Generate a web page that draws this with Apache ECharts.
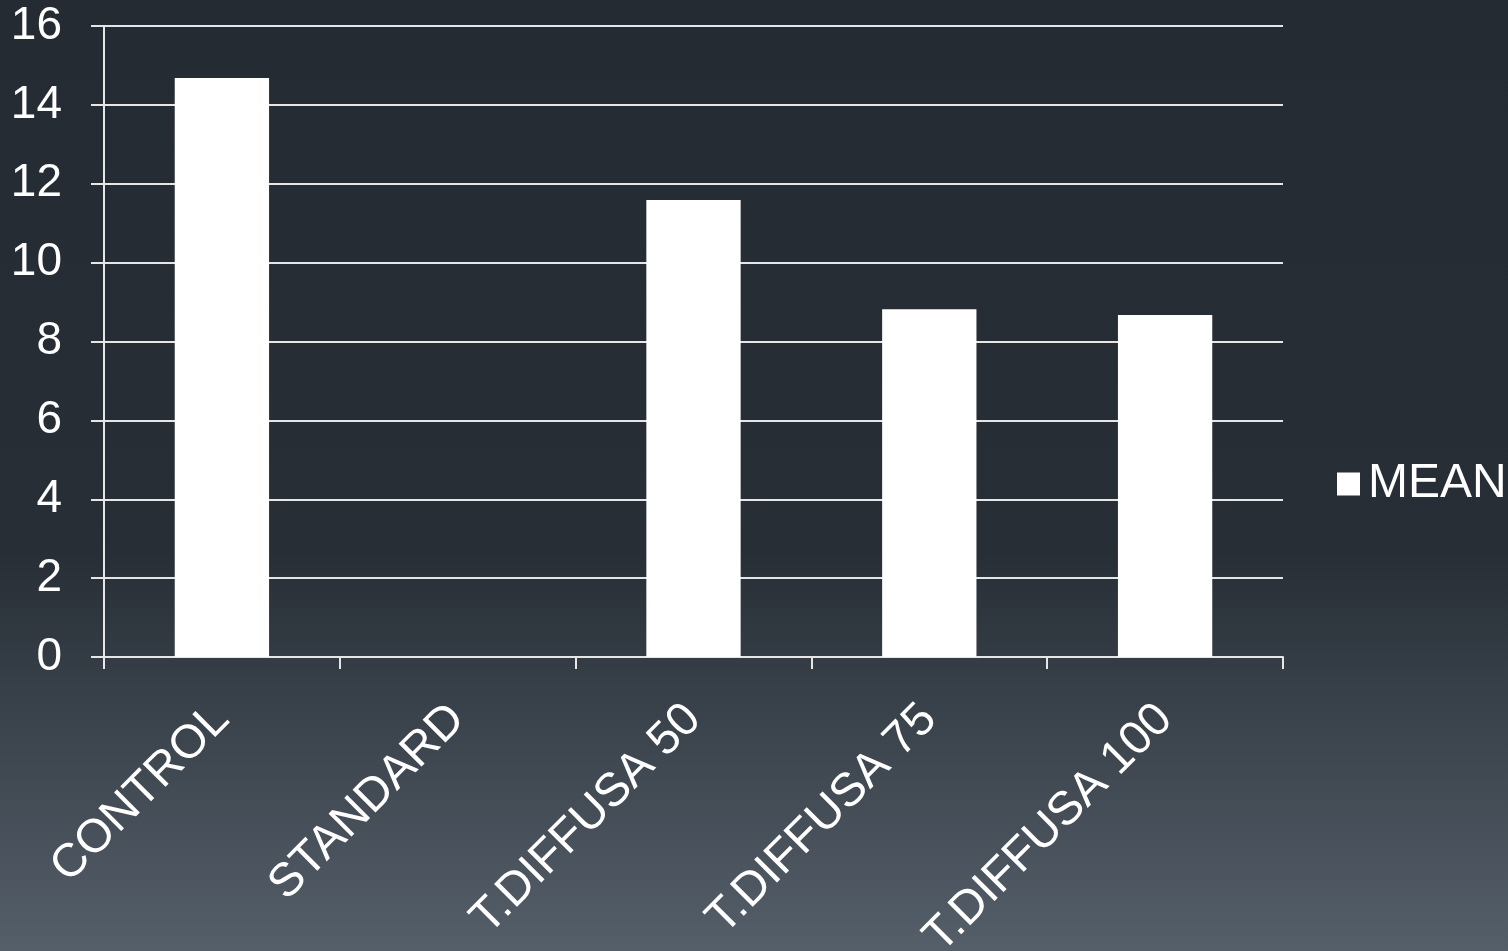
<!DOCTYPE html>
<html>
<head>
<meta charset="utf-8">
<script src="https://cdn.jsdelivr.net/npm/echarts@6/dist/echarts.min.js"></script>
<style>
html,body{margin:0;padding:0;width:1508px;height:951px;overflow:hidden;}
#chart{width:1508px;height:951px;}
</style>
</head>
<body>
<div id="chart"></div>
<script>
const categories = ['CONTROL', 'STANDARD', 'T.DIFFUSA 50', 'T.DIFFUSA 75', 'T.DIFFUSA 100'];
const meanValues = [14.68, 0, 11.59, 8.82, 8.67];
const seriesName = 'MEAN';
const yMin = 0, yMax = 16, yInterval = 2;

const chart = echarts.init(document.getElementById('chart'));
const font = '"Liberation Sans", Arial, sans-serif';
chart.setOption({
  animation: false,
  backgroundColor: {
    type: 'linear', x: 0, y: 0, x2: 0, y2: 1,
    colorStops: [
      {offset: 0, color: '#252b33'},
      {offset: 0.58, color: '#272e36'},
      {offset: 1, color: '#555f69'}
    ]
  },
  grid: {left: 104, right: 225, top: 26, bottom: 294, containLabel: false, outerBoundsMode: 'none'},
  legend: {
    data: [seriesName],
    orient: 'vertical',
    left: 1332, top: 455,
    itemWidth: 23, itemHeight: 23, itemGap: 10,
    icon: 'rect',
    textStyle: {color: '#ffffff', fontSize: 48, fontFamily: font, padding: [0,0,0,3]}
  },
  xAxis: {
    type: 'category',
    data: categories,
    boundaryGap: true,
    axisLine: {show: true, lineStyle: {color: '#e6e6e6', width: 2}},
    axisTick: {show: true, length: 12, inside: false, lineStyle: {color: '#e6e6e6', width: 2}},
    axisLabel: {color: '#ffffff', fontSize: 47, fontFamily: font, rotate: 45, margin: 55, interval: 0}
  },
  yAxis: {
    type: 'value',
    min: yMin, max: yMax, interval: yInterval,
    axisLine: {show: true, lineStyle: {color: '#e6e6e6', width: 2}},
    axisTick: {show: true, length: 13, lineStyle: {color: '#e6e6e6', width: 2}},
    axisLabel: {color: '#ffffff', fontSize: 46, fontFamily: font, margin: 42},
    splitLine: {show: true, lineStyle: {color: '#e6e6e6', width: 2}}
  },
  series: [{
    name: seriesName,
    type: 'bar',
    data: meanValues,
    barWidth: '40%',
    itemStyle: {color: '#ffffff'}
  }]
});
</script>
</body>
</html>
